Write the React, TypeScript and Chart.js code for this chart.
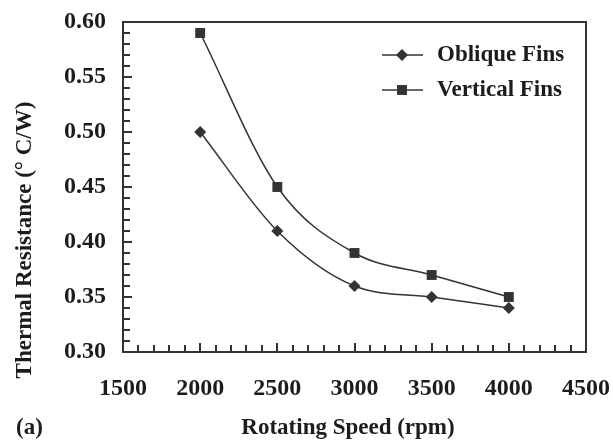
import React, { useEffect, useRef } from 'react';
import { Chart, registerables } from 'chart.js';

Chart.register(...registerables);

// ---- data ----
const speeds = [2000, 2500, 3000, 3500, 4000];
const obliqueFins = [0.5, 0.41, 0.36, 0.35, 0.34];
const verticalFins = [0.59, 0.45, 0.39, 0.37, 0.35];
const seriesNames = ['Oblique Fins', 'Vertical Fins'];
const xTitle = 'Rotating Speed (rpm)';
const yTitle = 'Thermal Resistance (° C/W)';
const panelLabel = '(a)';
const xRange = [1500, 4500];
const yRange = [0.3, 0.6];
const xMajorStep = 500;
const xMinorStep = 100;
const yMajorStep = 0.05;
const yMinorStep = 0.01;

const FONT = '"Liberation Serif", "Times New Roman", serif';
const INK = '#1c1c1c';
const LINE = '#333333';

function drawMarker(ctx: CanvasRenderingContext2D, style: string, x: number, y: number, r: number) {
  ctx.beginPath();
  if (style === 'rect') {
    const s = r * Math.SQRT1_2;
    ctx.rect(x - s, y - s, 2 * s, 2 * s);
  } else {
    ctx.moveTo(x, y - r);
    ctx.lineTo(x + r, y);
    ctx.lineTo(x, y + r);
    ctx.lineTo(x - r, y);
    ctx.closePath();
  }
  ctx.fill();
}

const decorPlugin = {
  id: 'decor',
  afterDraw(chart: any) {
    const { ctx, chartArea, scales } = chart;
    const { left, top, right, bottom } = chartArea;
    const xs = scales.x;
    const ys = scales.y;
    ctx.save();
    // frame
    ctx.strokeStyle = LINE;
    ctx.lineWidth = 2;
    ctx.strokeRect(left, top, right - left, bottom - top);
    // inward ticks on x
    const nx = Math.round((xRange[1] - xRange[0]) / xMinorStep);
    const perMajorX = Math.round(xMajorStep / xMinorStep);
    for (let i = 0; i <= nx; i++) {
      const v = xRange[0] + i * xMinorStep;
      const px = Math.round(xs.getPixelForValue(v));
      const len = i % perMajorX === 0 ? 9 : 7;
      ctx.beginPath();
      ctx.moveTo(px, bottom);
      ctx.lineTo(px, bottom - len);
      ctx.stroke();
    }
    // inward ticks on y
    const ny = Math.round((yRange[1] - yRange[0]) / yMinorStep);
    const perMajorY = Math.round(yMajorStep / yMinorStep);
    for (let i = 0; i <= ny; i++) {
      const v = yRange[0] + i * yMinorStep;
      const py = Math.round(ys.getPixelForValue(v));
      const len = i % perMajorY === 0 ? 9 : 7;
      ctx.beginPath();
      ctx.moveTo(left, py);
      ctx.lineTo(left + len, py);
      ctx.stroke();
    }
    // legend
    const legendItems = [
      { name: seriesNames[0], style: 'rectRot', r: 6, y: 55 },
      { name: seriesNames[1], style: 'rect', r: 7, y: 90 },
    ];
    ctx.font = `bold 23px ${FONT}`;
    ctx.textBaseline = 'middle';
    ctx.textAlign = 'left';
    for (const it of legendItems) {
      ctx.strokeStyle = LINE;
      ctx.lineWidth = 1.5;
      ctx.beginPath();
      ctx.moveTo(382, it.y);
      ctx.lineTo(423, it.y);
      ctx.stroke();
      ctx.fillStyle = LINE;
      drawMarker(ctx, it.style, 402, it.y, it.r);
      ctx.fillStyle = INK;
      ctx.fillText(it.name, 437, it.y);
    }
    // axis titles
    ctx.fillStyle = INK;
    ctx.font = `bold 23px ${FONT}`;
    ctx.textAlign = 'center';
    ctx.textBaseline = 'middle';
    ctx.fillText(xTitle, 348, 428);
    ctx.save();
    ctx.translate(25, 240);
    ctx.rotate(-Math.PI / 2);
    ctx.fillText(yTitle, 0, 0);
    ctx.restore();
    // panel label
    ctx.textAlign = 'left';
    ctx.fillText(panelLabel, 16, 428);
    ctx.restore();
  },
};

export default function App() {
  const canvasRef = useRef<HTMLCanvasElement | null>(null);

  useEffect(() => {
    const canvas = canvasRef.current;
    if (!canvas) return;
    const chart = new Chart(canvas, {
      type: 'line',
      data: {
        datasets: [
          {
            label: seriesNames[0],
            data: speeds.map((s, i) => ({ x: s, y: obliqueFins[i] })),
            borderColor: LINE,
            backgroundColor: LINE,
            borderWidth: 1.5,
            pointStyle: 'rectRot',
            pointRadius: 6,
            pointBorderWidth: 0,
            cubicInterpolationMode: 'monotone',
            fill: false,
          },
          {
            label: seriesNames[1],
            data: speeds.map((s, i) => ({ x: s, y: verticalFins[i] })),
            borderColor: LINE,
            backgroundColor: LINE,
            borderWidth: 1.5,
            pointStyle: 'rect',
            pointRadius: 7,
            pointBorderWidth: 0,
            cubicInterpolationMode: 'monotone',
            fill: false,
          },
        ],
      },
      options: {
        responsive: false,
        animation: false,
        devicePixelRatio: 1,
        layout: { padding: { top: 22, right: 27, left: 0, bottom: 0 } },
        plugins: {
          legend: { display: false },
          tooltip: { enabled: false },
        },
        scales: {
          x: {
            type: 'linear',
            min: xRange[0],
            max: xRange[1],
            afterFit: (scale: any) => {
              scale.height = 88;
              scale.paddingLeft = 0;
              scale.paddingRight = 0;
              scale.paddingTop = 0;
              scale.paddingBottom = 0;
            },
            grid: { display: false, drawTicks: false },
            border: { display: false },
            ticks: {
              stepSize: xMajorStep,
              color: INK,
              font: { family: FONT, size: 24, weight: 'bold' },
              padding: 22,
              maxRotation: 0,
              callback: (v: any) => String(v),
            },
          },
          y: {
            type: 'linear',
            min: yRange[0],
            max: yRange[1],
            afterFit: (scale: any) => {
              scale.width = 123;
              scale.paddingLeft = 0;
              scale.paddingRight = 0;
              scale.paddingTop = 0;
              scale.paddingBottom = 0;
            },
            grid: { display: false, drawTicks: false },
            border: { display: false },
            ticks: {
              stepSize: yMajorStep,
              color: INK,
              font: { family: FONT, size: 24, weight: 'bold' },
              padding: 17,
              callback: (v: any) => Number(v).toFixed(2),
            },
          },
        },
      },
      plugins: [decorPlugin],
    });
    return () => chart.destroy();
  }, []);

  return (
    <div style={{ position: 'absolute', left: 0, top: 0, width: 613, height: 440, background: '#fff' }}>
      <canvas ref={canvasRef} width={613} height={440} style={{ width: 613, height: 440, display: 'block' }} />
    </div>
  );
}
